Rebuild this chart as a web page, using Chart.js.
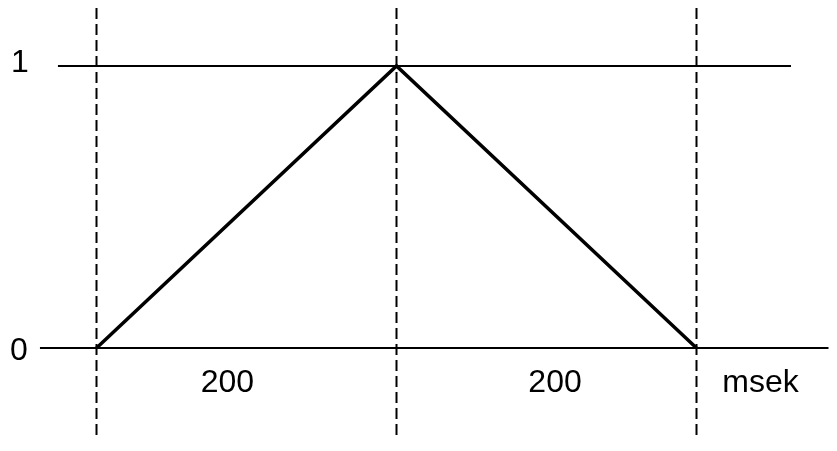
<!DOCTYPE html>
<html>
<head>
<meta charset="utf-8">
<script src="https://cdn.jsdelivr.net/npm/chart.js@4/dist/chart.umd.min.js"></script>
<style>
  html, body { margin: 0; padding: 0; background: #fff; }
  #wrap { width: 837px; height: 451px; }
</style>
</head>
<body>
<div id="wrap"><canvas id="pulse"></canvas></div>
<script>
// triangle pulse: time (ms) -> amplitude
const timeMs = [0, 200, 400];
const amplitude = [0, 1, 0];

// horizontal reference levels and how far they run (ms)
const levelValues = [1, 0];
const levelFrom = [-25.7, -37.7];
const levelTo = [463, 488];

// dashed markers at these times, spanning amplitude range
const markerTimes = [0, 200, 400];
const markerTop = 1.2057;
const markerBottom = -0.3085;

// text
const yTickLabels = ['1', '0'];
const segmentLabels = ['200', '200'];
const segmentLabelX = [87.3, 305.7];
const unitLabel = 'msek';
const unitLabelX = 442.7;
const bottomLabelY = -0.156;

const COLOR_BLACK = '#000000';
const FONT = '32px "Liberation Sans", Arial, sans-serif';

const datasets = [];

markerTimes.forEach(t => {
    datasets.push({
        data: [{ x: t, y: markerTop }, { x: t, y: markerBottom }],
        borderColor: COLOR_BLACK,
        borderWidth: 2,
        borderDash: [11, 5],
        pointRadius: 0,
        clip: false
    });
});

levelValues.forEach((v, i) => {
    datasets.push({
        data: [{ x: levelFrom[i], y: v }, { x: levelTo[i], y: v }],
        borderColor: COLOR_BLACK,
        borderWidth: i === 0 ? 1.8 : 2,
        pointRadius: 0,
        clip: false
    });
});

datasets.push({
    data: timeMs.map((t, i) => ({ x: t, y: amplitude[i] })),
    borderColor: COLOR_BLACK,
    borderWidth: 3.5,
    borderJoinStyle: 'miter',
    pointRadius: 0,
    clip: false
});

const textLabels = {
    id: 'textLabels',
    afterDatasetsDraw(chart) {
        const { ctx, scales: { x, y } } = chart;
        ctx.save();
        ctx.fillStyle = COLOR_BLACK;
        ctx.font = FONT;
        ctx.textAlign = 'center';
        ctx.textBaseline = 'alphabetic';
        const tickX = x.getPixelForValue(-51.7);
        ctx.fillText(yTickLabels[0], tickX + 1, y.getPixelForValue(levelValues[0]) + 6);
        ctx.fillText(yTickLabels[1], tickX, y.getPixelForValue(levelValues[1]) + 12);
        const by = y.getPixelForValue(bottomLabelY);
        segmentLabels.forEach((s, i) => {
            ctx.fillText(s, x.getPixelForValue(segmentLabelX[i]), by);
        });
        ctx.fillText(unitLabel, x.getPixelForValue(unitLabelX), by);
        ctx.restore();
    }
};

new Chart(document.getElementById('pulse'), {
    type: 'line',
    data: { datasets: datasets },
    options: {
        responsive: true,
        maintainAspectRatio: false,
        animation: false,
        layout: { padding: 4 },
        plugins: {
            legend: { display: false },
            tooltip: { enabled: false }
        },
        scales: {
            x: { type: 'linear', display: false, min: -61.67, max: 491 },
            y: { type: 'linear', display: false, min: -0.351, max: 1.2199 }
        }
    },
    plugins: [textLabels]
});
</script>
</body>
</html>
